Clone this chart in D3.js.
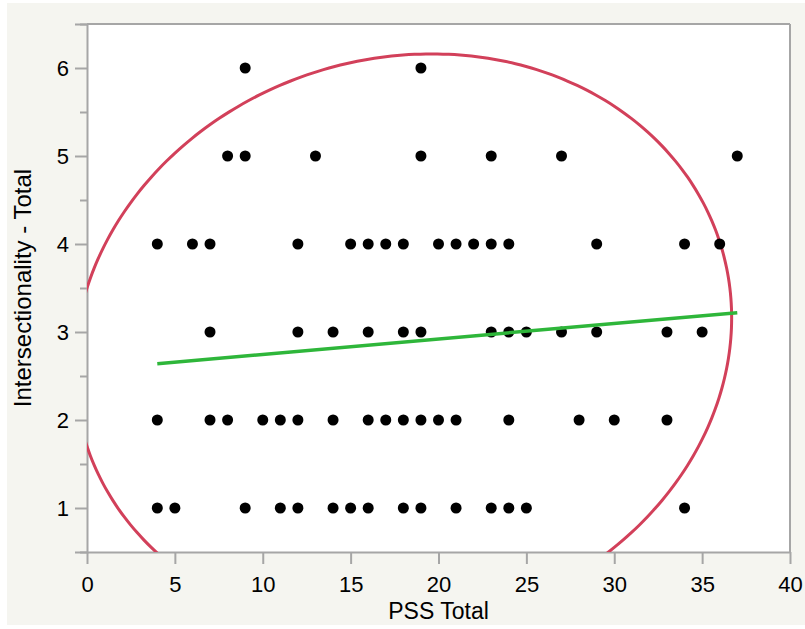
<!DOCTYPE html>
<html>
<head>
<meta charset="utf-8">
<script src="https://cdn.jsdelivr.net/npm/d3@7"></script>
<style>
  body { margin: 0; background: #fff; }
  svg { display: block; font-family: "Liberation Sans", Arial, sans-serif; }
</style>
</head>
<body>
<div id="chart"></div>
<script>
// PSS Total (x) by Intersectionality - Total (y), one list per row
var row6 = [9, 19];
var row5 = [8, 9, 13, 19, 23, 27, 37];
var row4 = [4, 6, 7, 12, 15, 16, 17, 18, 20, 21, 22, 23, 24, 29, 34, 36];
var row3 = [7, 12, 14, 16, 18, 19, 23, 24, 25, 27, 29, 33, 35];
var row2 = [4, 7, 8, 10, 11, 12, 14, 16, 17, 18, 19, 20, 21, 24, 28, 30, 33];
var row1 = [4, 5, 9, 11, 12, 14, 15, 16, 18, 19, 21, 23, 24, 25, 34];

var xTicks = [0, 5, 10, 15, 20, 25, 30, 35, 40];
var yTicks = [1, 2, 3, 4, 5, 6];
var yMinorTicks = [0.5, 1.5, 2.5, 3.5, 4.5, 5.5, 6.5];

var fitX = [4, 37];
var fitY = [2.64, 3.22];

// density ellipse: centre, half extents, correlation
var ellCenter = [17.98, 2.875];
var ellRadius = [18.7, 3.285];
var ellRho = 0.087;

var margin = {top: 24, right: 15, bottom: 77, left: 87},
    width = 805 - margin.left - margin.right,
    height = 629 - margin.top - margin.bottom;

var svg = d3.select("#chart").append("svg")
    .attr("width", 805)
    .attr("height", 629);

svg.append("rect")
    .attr("x", 7).attr("y", 3)
    .attr("width", 798).attr("height", 622)
    .attr("fill", "#f5f5f0");

var g = svg.append("g")
    .attr("transform", "translate(" + margin.left + "," + margin.top + ")");

var x = d3.scaleLinear().domain([0, 40]).range([0, width]);
var y = d3.scaleLinear().domain([0.5, 6.5]).range([height, 0]);

g.append("rect")
    .attr("width", width)
    .attr("height", height)
    .attr("fill", "#fff");

g.append("clipPath").attr("id", "clip")
  .append("rect")
    .attr("width", width)
    .attr("height", height);

var axisColor = "#a6a6a6";

// minor ticks first, major on top
var yMinor = g.append("g")
    .call(d3.axisLeft(y).tickValues(yMinorTicks).tickSize(7).tickFormat(""));

var yAxis = g.append("g")
    .call(d3.axisLeft(y).tickValues(yTicks).tickSize(12).tickPadding(6).tickFormat(d3.format("d")));

var xAxis = g.append("g")
    .attr("transform", "translate(0," + height + ")")
    .call(d3.axisBottom(x).tickValues(xTicks).tickSize(12).tickPadding(12).tickSizeOuter(0));

[yMinor, yAxis, xAxis].forEach(function(a) {
  a.selectAll("path").attr("stroke", axisColor).attr("stroke-width", 2);
  a.selectAll("line").attr("stroke", axisColor).attr("stroke-width", 2);
  a.selectAll("text").attr("fill", "#000").style("font-size", "22px");
});
yMinor.select("path").remove();

// top and right border of the frame
g.append("line")
    .attr("x1", 0).attr("x2", width).attr("y1", 0).attr("y2", 0)
    .attr("stroke", axisColor).attr("stroke-width", 2);
g.append("line")
    .attr("x1", width).attr("x2", width).attr("y1", 0).attr("y2", height)
    .attr("stroke", axisColor).attr("stroke-width", 2);

var plot = g.append("g").attr("clip-path", "url(#clip)");

// ellipse path built from its parameters
var ellPts = d3.range(0, 360, 2).map(function(deg) {
  var t = deg * Math.PI / 180;
  var ex = ellCenter[0] + ellRadius[0] * Math.cos(t);
  var ey = ellCenter[1] + ellRadius[1] * (ellRho * Math.cos(t) + Math.sqrt(1 - ellRho * ellRho) * Math.sin(t));
  return [x(ex), y(ey)];
});

plot.append("path")
    .attr("d", d3.line().curve(d3.curveCardinalClosed)(ellPts))
    .attr("fill", "none")
    .attr("stroke", "#d2405a")
    .attr("stroke-width", 3);

var points = [];
[[1, row1], [2, row2], [3, row3], [4, row4], [5, row5], [6, row6]].forEach(function(r) {
  r[1].forEach(function(v) { points.push({x: v, y: r[0]}); });
});

plot.selectAll(".dot")
    .data(points)
  .enter().append("circle")
    .attr("class", "dot")
    .attr("cx", function(d) { return x(d.x); })
    .attr("cy", function(d) { return y(d.y); })
    .attr("r", 5.5)
    .attr("fill", "#000");

plot.append("line")
    .attr("x1", x(fitX[0])).attr("y1", y(fitY[0]))
    .attr("x2", x(fitX[1])).attr("y2", y(fitY[1]))
    .attr("stroke", "#2eb63a")
    .attr("stroke-width", 3.5);

svg.append("text")
    .attr("x", margin.left + width / 2)
    .attr("y", 619)
    .attr("text-anchor", "middle")
    .style("font-size", "23px")
    .text("PSS Total");

svg.append("text")
    .attr("transform", "translate(31," + (margin.top + height / 2) + ") rotate(-90)")
    .attr("text-anchor", "middle")
    .style("font-size", "24px")
    .text("Intersectionality - Total");
</script>
</body>
</html>
